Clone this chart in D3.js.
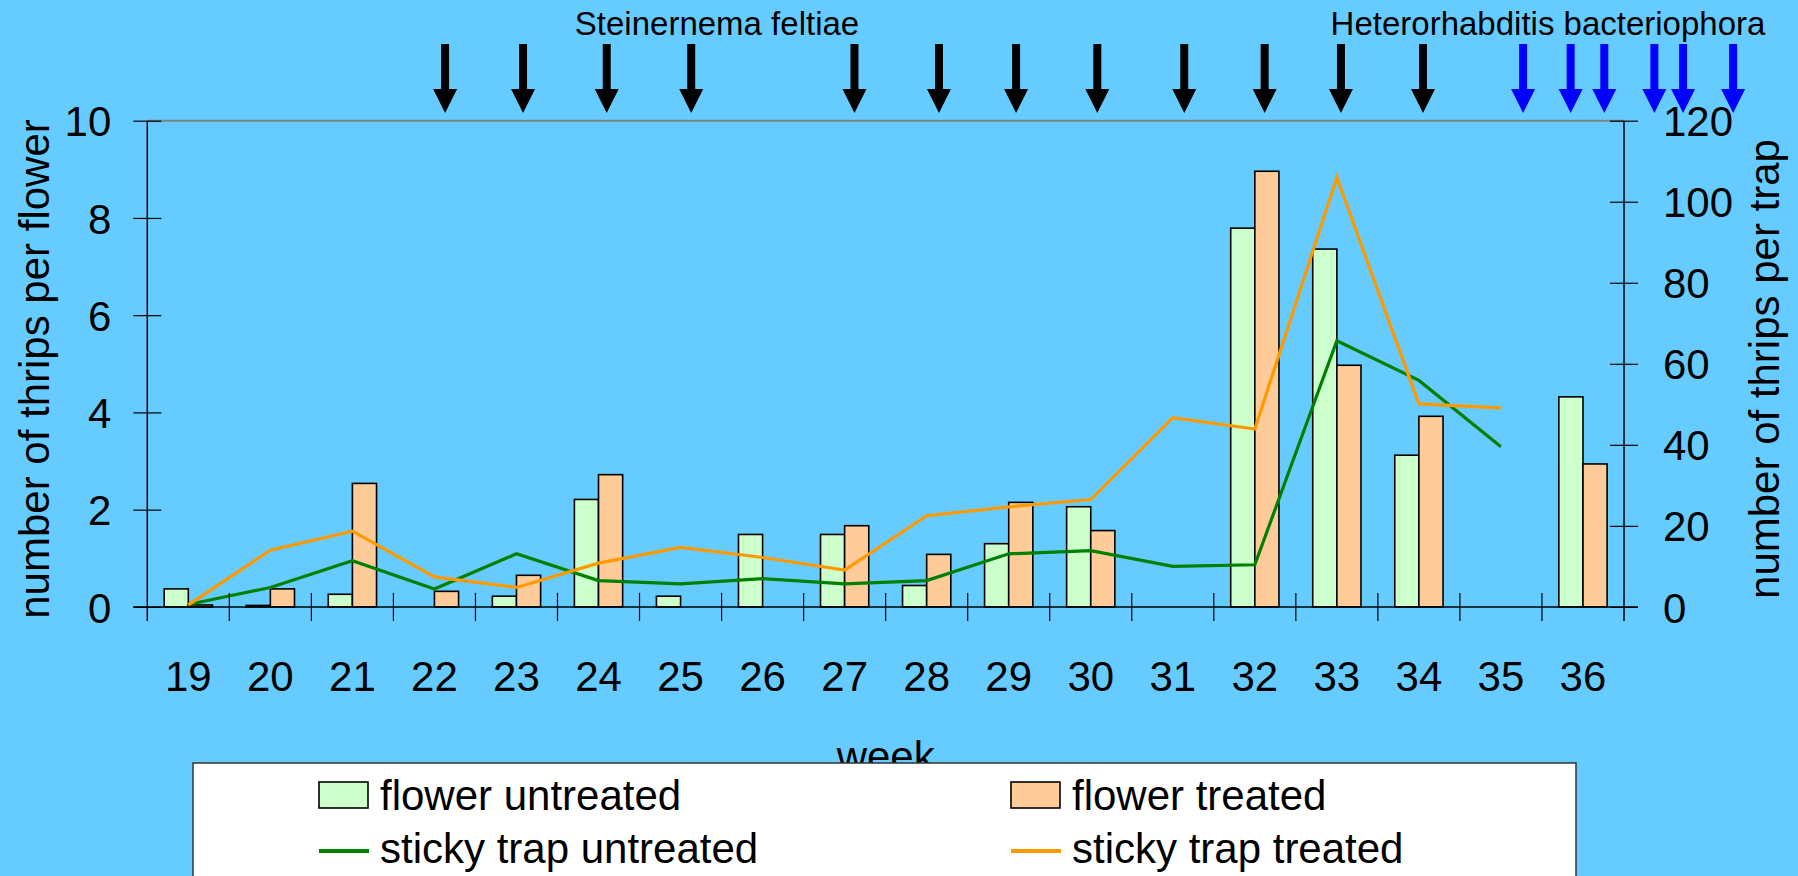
<!DOCTYPE html>
<html>
<head>
<meta charset="utf-8">
<script src="https://cdn.jsdelivr.net/npm/d3@7"></script>
<style>
  html, body { margin: 0; padding: 0; background: #66CCFF; }
  svg { display: block; font-family: "Liberation Sans", Arial, sans-serif; }
</style>
</head>
<body>
<svg id="chart" width="1798" height="876"></svg>
<script>
//data
const weeks = [19, 20, 21, 22, 23, 24, 25, 26, 27, 28, 29, 30, 31, 32, 33, 34, 35, 36]
const flowerUntreated = [0.37, 0.03, 0.26, 0, 0.22, 2.21, 0.22, 1.49, 1.49, 0.44, 1.30, 2.06, 0, 7.79, 7.36, 3.12, 0, 4.32]
const flowerTreated = [0.04, 0.37, 2.54, 0.32, 0.65, 2.72, 0, 0, 1.67, 1.08, 2.15, 1.57, 0, 8.96, 4.97, 3.92, 0, 2.94]
const trapUntreated = [0.6, 4.8, 11.4, 4.4, 13.1, 6.5, 5.7, 7.0, 5.7, 6.5, 13.1, 13.9, 10.0, 10.4, 65.7, 55.9, 39.5, null]
const trapTreated = [0.5, 14.0, 18.7, 7.4, 4.8, 10.8, 14.7, 12.2, 9.1, 22.5, 24.7, 26.5, 46.7, 43.9, 106.0, 50.1, 49.1, null]
const leftTicks = [0, 2, 4, 6, 8, 10]
const rightTicks = [0, 20, 40, 60, 80, 100, 120]
//application dates, in weeks
const sfWeeks = [22.13, 23.08, 24.10, 25.13, 27.12, 28.15, 29.09, 30.08, 31.14, 32.12, 33.05, 34.05]
const hbWeeks = [35.27, 35.85, 36.26, 36.87, 37.22, 37.83]

const BG = "#66CCFF"
const FONT = 42

let svg = d3.select("#chart")
svg.append("rect").attr("width", 1798).attr("height", 876).attr("fill", BG)

//plot area
const L = 147.3, R = 1624, T = 120.7, B = 606.9

let x = d3.scaleBand().domain(weeks).range([L, R]).padding(0)
let xs = d3.scaleBand().domain(["u", "t"]).range([0, x.bandwidth()]).paddingInner(0).paddingOuter(0.7)
let weekPos = d3.scaleLinear().domain([18.5, 36.5]).range([L, R])
let yL = d3.scaleLinear().domain([0, 10]).range([B, T])
let yR = d3.scaleLinear().domain([0, 120]).range([B, T])

//top border of plot area
svg.append("line").attr("x1", L).attr("x2", R).attr("y1", T).attr("y2", T)
  .attr("stroke", "#808080").attr("stroke-width", 2)

//bars
const bars = [
  {key: "u", vals: flowerUntreated, fill: "#CCFFCC"},
  {key: "t", vals: flowerTreated, fill: "#FFCC99"}
]
bars.forEach(s => {
  svg.append("g").selectAll("rect")
    .data(weeks.map((w, i) => ({w, v: s.vals[i]})).filter(d => d.v > 0))
    .enter().append("rect")
    .attr("x", d => x(d.w) + xs(s.key))
    .attr("width", xs.bandwidth())
    .attr("y", d => yL(d.v))
    .attr("height", d => yL(0) - yL(d.v))
    .attr("fill", s.fill)
    .attr("stroke", "#000").attr("stroke-width", 1.6)
})

//lines on the right axis
const line = d3.line()
  .defined(d => d.v != null)
  .x(d => x(d.w) + x.bandwidth() / 2)
  .y(d => yR(d.v))

const lines = [
  {vals: trapUntreated, color: "#008000"},
  {vals: trapTreated, color: "#FF9900"}
]
lines.forEach(s => {
  svg.append("path")
    .datum(weeks.map((w, i) => ({w, v: s.vals[i]})))
    .attr("d", line)
    .attr("fill", "none")
    .attr("stroke", s.color)
    .attr("stroke-width", 3.2)
    .attr("stroke-linejoin", "miter")
})

//axes
const TK = 14
let gL = svg.append("g").attr("transform", `translate(${L},0)`)
  .call(d3.axisLeft(yL).tickValues(leftTicks).tickSize(TK).tickPadding(22).tickSizeOuter(0))
let gR = svg.append("g").attr("transform", `translate(${R},0)`)
  .call(d3.axisRight(yR).tickValues(rightTicks).tickSize(TK).tickPadding(25).tickSizeOuter(0))
;[gL, gR].forEach(g => {
  g.select(".domain").remove()
  g.attr("font-size", FONT).attr("font-family", null)
  g.selectAll(".tick line").attr("stroke", "#000").attr("stroke-width", 1.2)
  g.selectAll(".tick text").attr("fill", "#000").attr("dy", "0.36em")
})
gL.selectAll(".tick line").attr("x1", TK)
gR.selectAll(".tick line").attr("x1", -TK)

//vertical axis lines reach down past the x axis
;[L, R].forEach(px => {
  svg.append("line").attr("x1", px).attr("x2", px).attr("y1", T).attr("y2", B + TK)
    .attr("stroke", "#000").attr("stroke-width", 1.5)
})

//x axis: category separators cross the axis line
svg.append("line").attr("x1", L - TK).attr("x2", R + TK).attr("y1", B).attr("y2", B)
  .attr("stroke", "#000").attr("stroke-width", 1.5)
svg.append("g").selectAll("line").data(weeks.slice(1)).enter().append("line")
  .attr("x1", d => x(d)).attr("x2", d => x(d))
  .attr("y1", B - TK).attr("y2", B + TK)
  .attr("stroke", "#000").attr("stroke-width", 1.2)

let gX = svg.append("g").attr("transform", `translate(0,${B})`)
  .call(d3.axisBottom(x).tickSize(0))
gX.select(".domain").remove()
gX.attr("font-size", FONT).attr("font-family", null)
gX.selectAll(".tick text").attr("fill", "#000").attr("y", 84).attr("dy", null)

//axis titles
svg.append("text").attr("x", 885.7).attr("y", 771).attr("text-anchor", "middle")
  .attr("font-size", FONT).text("week")
svg.append("text").attr("transform", "translate(49,369) rotate(-90)")
  .attr("text-anchor", "middle").attr("font-size", FONT).text("number of thrips per flower")
svg.append("text").attr("transform", "translate(1779,369) rotate(-90)")
  .attr("text-anchor", "middle").attr("font-size", FONT).text("number of thrips per trap")

//application arrows
const arrowPath = cx => {
  let top = 44, base = 89, tip = 113, sw = 4, hw = 12
  return `M${cx - sw},${top}H${cx + sw}V${base}H${cx + hw}L${cx},${tip}L${cx - hw},${base}H${cx - sw}Z`
}
svg.append("g").selectAll("path").data(sfWeeks).enter().append("path")
  .attr("d", d => arrowPath(weekPos(d))).attr("fill", "#000")
svg.append("g").selectAll("path").data(hbWeeks).enter().append("path")
  .attr("d", d => arrowPath(weekPos(d))).attr("fill", "#0000FF")

svg.append("text").attr("x", 717).attr("y", 35).attr("text-anchor", "middle")
  .attr("font-size", 33).text("Steinernema feltiae")
svg.append("text").attr("x", 1548).attr("y", 35).attr("text-anchor", "middle")
  .attr("font-size", 33).text("Heterorhabditis bacteriophora")

//legend
let lg = svg.append("g")
lg.append("rect").attr("x", 193).attr("y", 763).attr("width", 1383).attr("height", 140)
  .attr("fill", "#fff").attr("stroke", "#333").attr("stroke-width", 1.5)
const legendItems = [
  {label: "flower untreated", type: "bar", color: "#CCFFCC", col: 0, row: 0},
  {label: "flower treated", type: "bar", color: "#FFCC99", col: 1, row: 0},
  {label: "sticky trap untreated", type: "line", color: "#008000", col: 0, row: 1},
  {label: "sticky trap treated", type: "line", color: "#FF9900", col: 1, row: 1}
]
const colX = [319, 1011], rowY = [810, 863]
legendItems.forEach(d => {
  let sx = colX[d.col], by = rowY[d.row]
  if (d.type == "bar") {
    lg.append("rect").attr("x", sx).attr("y", by - 28).attr("width", 49).attr("height", 26)
      .attr("fill", d.color).attr("stroke", "#000").attr("stroke-width", 1.6)
  } else {
    lg.append("line").attr("x1", sx).attr("x2", sx + 50).attr("y1", by - 12).attr("y2", by - 12)
      .attr("stroke", d.color).attr("stroke-width", 4)
  }
  lg.append("text").attr("x", sx + 61).attr("y", by).attr("font-size", FONT).text(d.label)
})
</script>
</body>
</html>
